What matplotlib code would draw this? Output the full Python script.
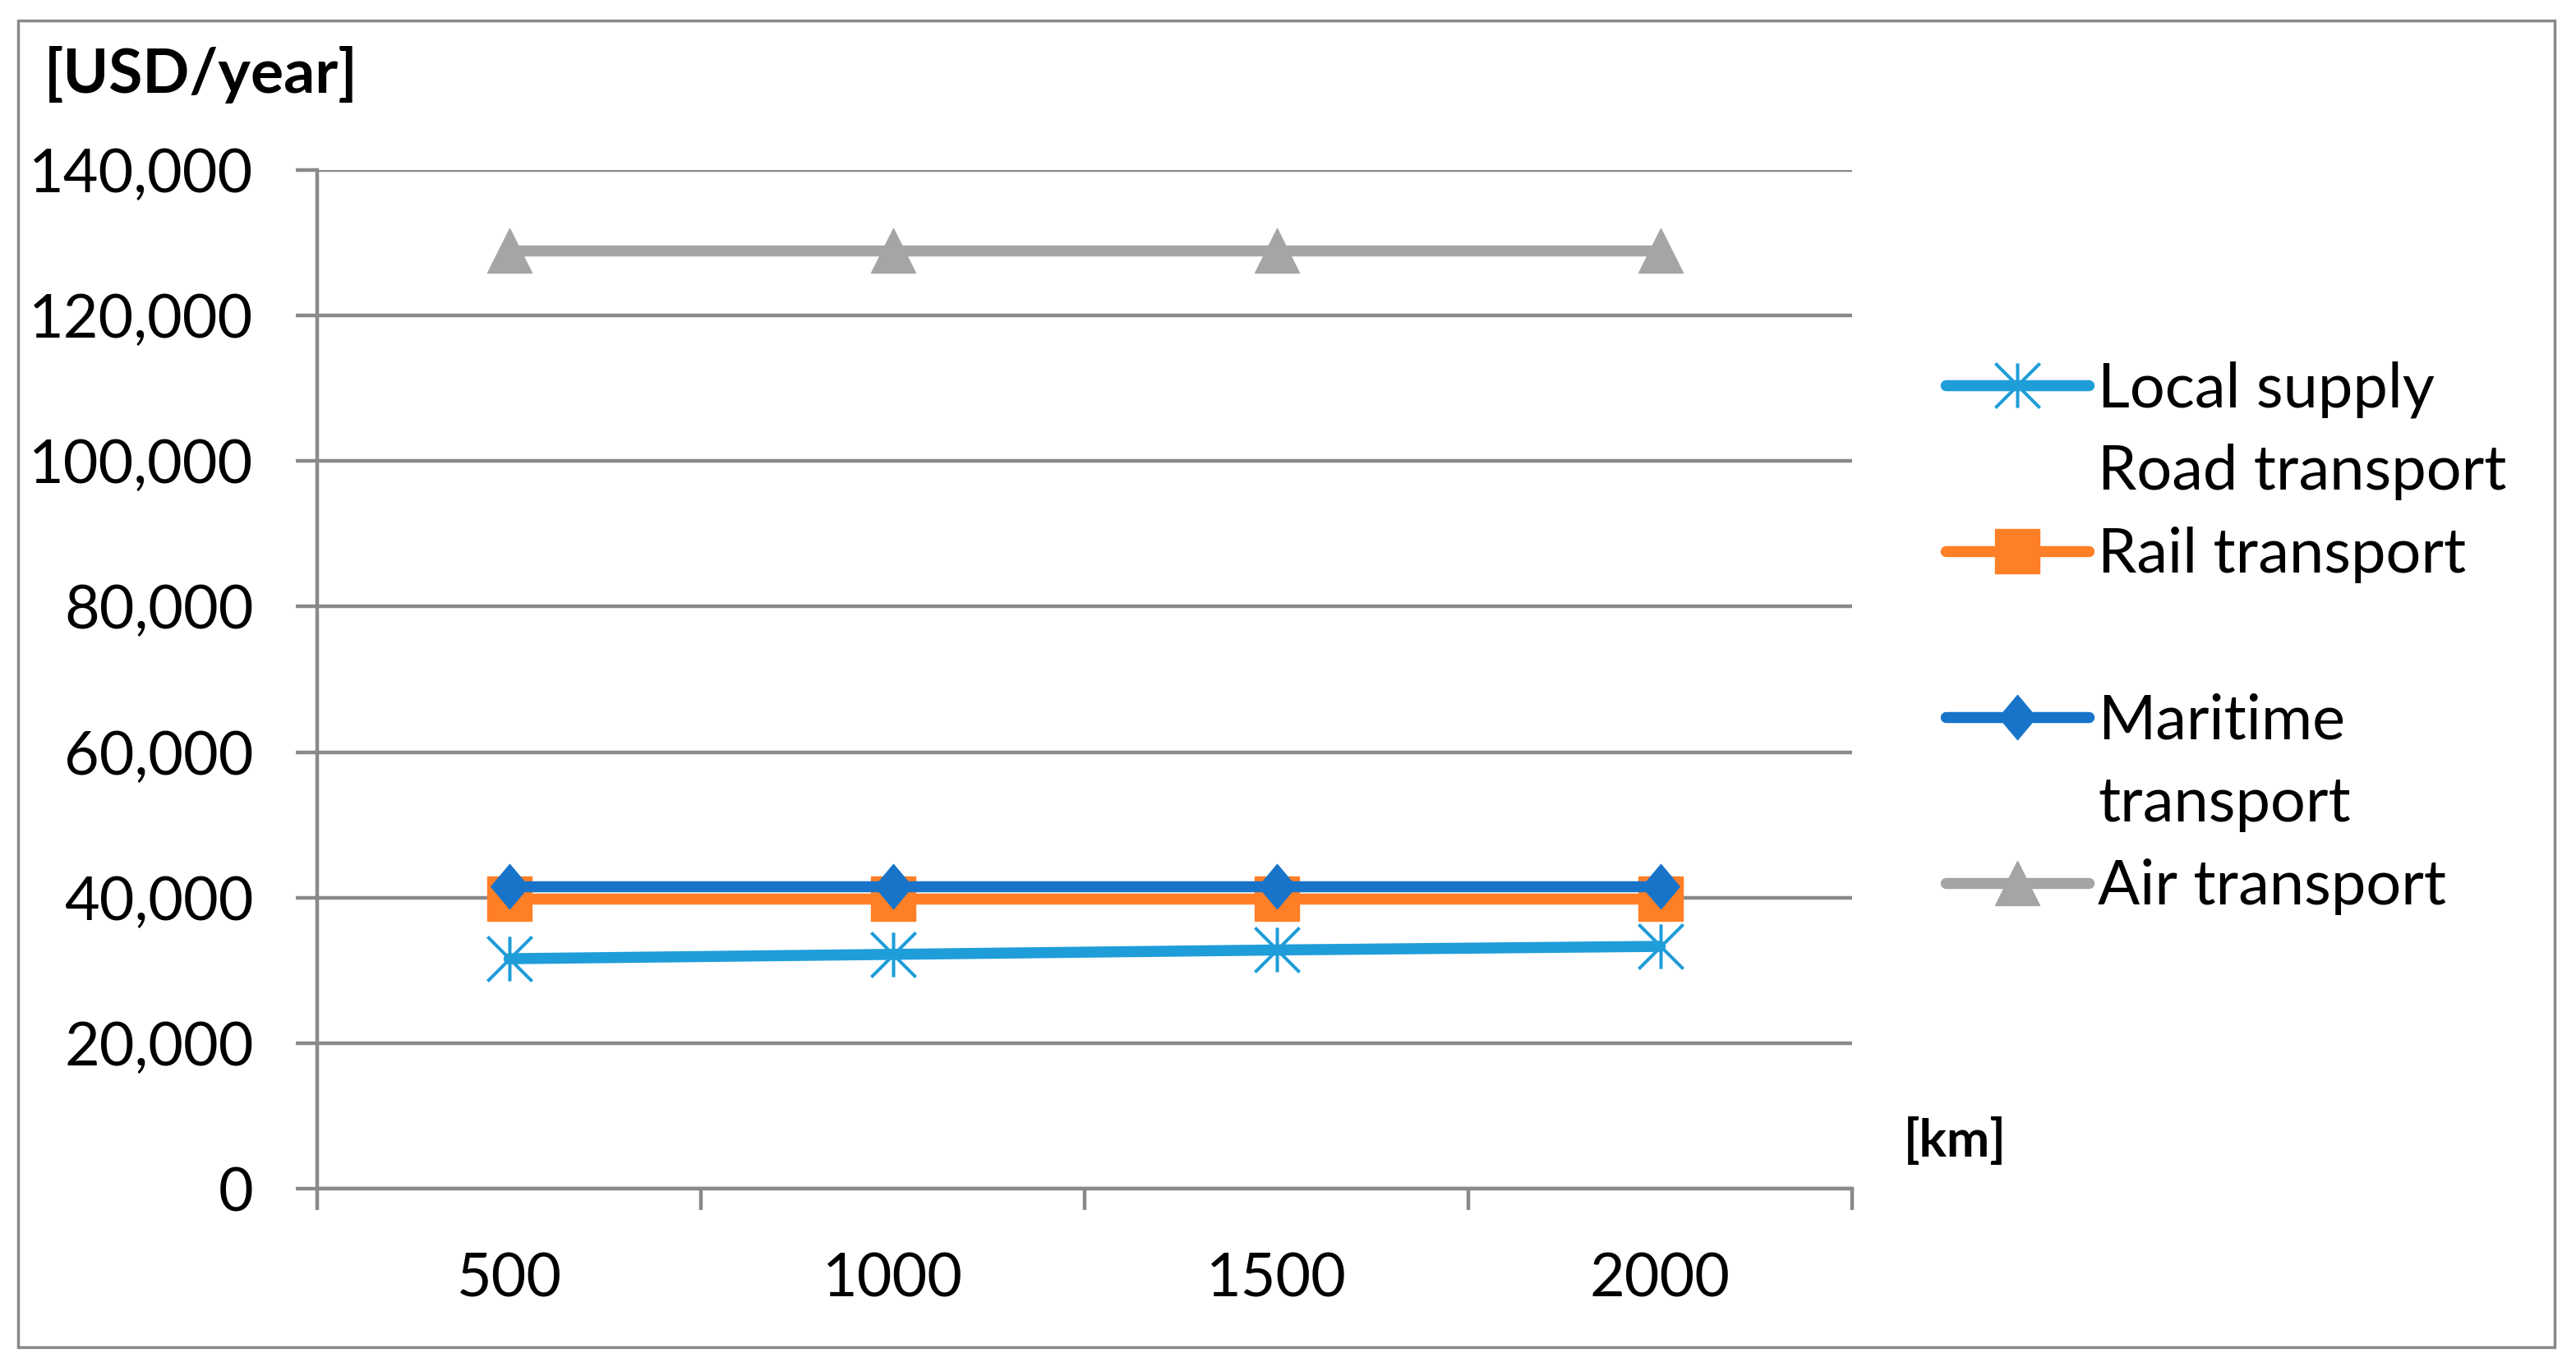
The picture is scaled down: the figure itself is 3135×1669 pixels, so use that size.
import matplotlib.pyplot as plt
import numpy as np
from matplotlib.lines import Line2D
from matplotlib.path import Path
from matplotlib.patches import Rectangle
from matplotlib.ticker import FuncFormatter

# data
distances = ['500', '1000', '1500', '2000']
local_road = [31600, 32200, 32800, 33300]
rail = [39900, 39900, 39900, 39900]
maritime = [41500, 41500, 41500, 41500]
air = [128900, 128900, 128900, 128900]
series_names = ['Local supply\nRoad transport', 'Rail transport',
                'Maritime\ntransport', 'Air transport']
y_ticks = [0, 20000, 40000, 60000, 80000, 100000, 120000, 140000]

W, H, DPI = 3135, 1669, 100
plt.rcParams['font.family'] = ['Lato', 'DejaVu Sans']
GRID = '#898989'
FS = 53

# excel style markers
asterisk = Path([(-1, -1), (1, 1), (-1, 1), (1, -1), (0, -1), (0, 1)],
                [Path.MOVETO, Path.LINETO] * 3)
diamond = Path([(0, 1), (0.84, 0), (0, -1), (-0.84, 0), (0, 1)],
               [Path.MOVETO, Path.LINETO, Path.LINETO, Path.LINETO, Path.CLOSEPOLY])

styles = [
    dict(color='#1F9DD9', marker=asterisk, ms=39, mew=2.9),
    dict(color='#FF7F27', marker='s', ms=38.5, mew=1),
    dict(color='#1874C9', marker=diamond, ms=39, mew=1),
    dict(color='#A5A5A5', marker='^', ms=39, mew=1),
]
values = [local_road, rail, maritime, air]

fig = plt.figure(figsize=(W / DPI, H / DPI), dpi=DPI)
ax = fig.add_axes([386 / W, 1 - 1447 / H, (2254 - 386) / W, (1447 - 207) / H])

x = np.arange(len(distances))
for vals, st in zip(values, styles):
    ax.plot(x, vals, color=st['color'], lw=9.7, marker=st['marker'], ms=st['ms'],
            mew=st['mew'], mec=st['color'], mfc=st['color'], clip_on=False,
            solid_capstyle='round', zorder=3)

ax.set_xlim(-0.5, len(distances) - 0.5)
ax.set_ylim(0, 140000)
ax.set_yticks(y_ticks)
ax.yaxis.set_major_formatter(FuncFormatter(lambda v, p: f'{v:,.0f}'))
ax.set_xticks(np.arange(-0.5, len(distances), 1), labels=[])
ax.set_xticks(x, labels=distances, minor=True)

ax.yaxis.grid(True, color=GRID, lw=3.2)
ax.set_axisbelow(True)
for s in ['top', 'right']:
    ax.spines[s].set_visible(False)
for s in ['left', 'bottom']:
    ax.spines[s].set_color(GRID)
    ax.spines[s].set_linewidth(3.2)

ax.tick_params(axis='y', which='major', direction='out', length=18.7, width=3.2,
               color=GRID, labelsize=FS, pad=37)
ax.tick_params(axis='x', which='major', direction='out', length=18.7, width=3.2,
               color=GRID)
ax.tick_params(axis='x', which='minor', length=0, labelsize=FS, pad=56)

# overlay in pixel coordinates for border, unit labels and legend
ov = fig.add_axes([0, 0, 1, 1])
ov.set_xlim(0, W)
ov.set_ylim(H, 0)
ov.set_axis_off()
ov.patch.set_visible(False)

ov.add_patch(Rectangle((22, 25), 3109 - 22, 1640 - 25, fill=False, ec=GRID, lw=2.5))
ov.text(54, 113, '[USD/year]', fontsize=FS + 1, fontweight='bold', va='baseline')
ov.text(2317, 1408, '[km]', fontsize=45, fontweight='bold', va='baseline')

row0, row_h = 469, 101
entry_rows = [0, 2, 4, 6]
for name, st, r in zip(series_names, styles, entry_rows):
    yy = row0 + r * row_h
    ov.add_line(Line2D([2368, 2542], [yy, yy], color=st['color'], lw=9.7,
                       solid_capstyle='round'))
    ov.add_line(Line2D([2455], [yy], color=st['color'], marker=st['marker'],
                       ms=st['ms'], mew=st['mew'], mec=st['color'], mfc=st['color']))
    for i, line in enumerate(name.split('\n')):
        ov.text(2553, yy + 26 + i * row_h, line, fontsize=54.5, va='baseline')

fig.savefig('out.png', dpi=DPI)
